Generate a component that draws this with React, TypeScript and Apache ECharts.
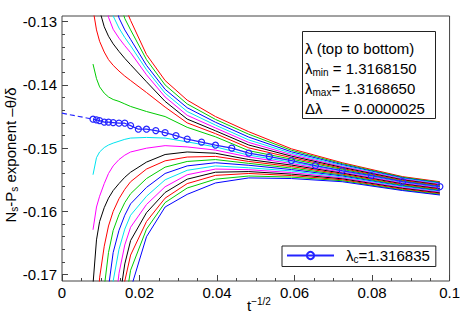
import React, { useEffect, useRef } from 'react';
import * as echarts from 'echarts';

const FONT = '"Liberation Sans", Arial, Helvetica, sans-serif';

// shared t^{-1/2} sample points of the coloured curves
const xGrid = [0.008, 0.0089, 0.0097, 0.0109, 0.012, 0.0132, 0.0147, 0.0162, 0.0177, 0.0218, 0.0266, 0.0323, 0.0396, 0.0482, 0.0592, 0.0723, 0.0879, 0.0975];

// exponent values in units of 1e-3 (null = no data point), top to bottom, the λc curve excluded
const curveIndex = [0, 1, 2, 3, 4, 5, 6, 7, 9, 10, 11, 12, 13, 14, 15, 16, 17, 18, 19, 20];
const curveValues: (number | null)[][] = [
  [null, null, null, null, null, null, -124.0, -127.6, -129.8, -135.2, -139.3, -142.4, -145.0, -147.4, -150.1, -152.3, -154.5, -155.3],
  [null, null, null, null, null, -122.0, -126.5, -129.5, -131.3, -136.0, -140.0, -143.0, -145.45, -147.8, -150.33, -152.45, -154.6, -155.4],
  [null, null, null, null, -121.0, -125.5, -129.4, -131.3, -132.8, -136.9, -140.7, -143.6, -145.9, -148.25, -150.57, -152.6, -154.7, -155.5],
  [null, null, null, -121.0, -125.8, -129.1, -131.0, -132.5, -133.8, -137.6, -141.3, -144.2, -146.35, -148.7, -150.8, -152.75, -154.8, -155.6],
  [null, null, -121.0, -125.5, -129.3, -131.2, -132.6, -133.8, -134.9, -138.4, -141.9, -144.8, -146.8, -149.1, -151.03, -152.9, -154.9, -155.7],
  [null, -123.5, -128.2, -130.8, -132.3, -133.5, -134.7, -135.8, -136.8, -139.5, -142.6, -145.4, -147.25, -149.5, -151.26, -153.05, -155.0, -155.8],
  [-128.0, -131.3, -133.1, -134.8, -136.0, -136.9, -137.8, -138.6, -139.3, -141.2, -143.5, -146.0, -147.7, -149.95, -151.5, -153.2, -155.1, -155.9],
  [-136.7, -139.0, -140.3, -141.3, -141.9, -142.3, -142.6, -143.0, -143.4, -144.2, -145.0, -146.7, -148.2, -150.4, -151.73, -153.35, -155.2, -156.0],
  [-154.2, -151.5, -150.6, -149.9, -149.5, -149.2, -148.9, -148.6, -148.4, -148.3, -148.4, -149.0, -149.8, -151.1, -152.2, -153.65, -155.42, -156.21],
  [-162.9, -159.3, -157.6, -155.6, -154.0, -152.8, -151.8, -151.1, -150.6, -150.0, -149.6, -149.8, -150.3, -151.4, -152.43, -153.8, -155.53, -156.32],
  [-171.5, -164.5, -161.6, -159.4, -157.9, -156.7, -155.6, -154.6, -153.8, -152.2, -151.0, -150.6, -150.8, -151.8, -152.67, -153.95, -155.65, -156.42],
  [null, -178.0, -170.5, -165.5, -162.3, -160.0, -158.0, -156.5, -155.3, -153.3, -152.0, -151.4, -151.3, -152.1, -152.9, -154.1, -155.77, -156.53],
  [null, null, -180.0, -172.0, -166.5, -163.0, -160.5, -158.6, -157.2, -154.8, -153.0, -152.1, -151.8, -152.4, -153.14, -154.25, -155.88, -156.64],
  [null, null, null, -182.0, -172.0, -166.5, -163.0, -160.6, -158.8, -156.2, -154.0, -152.8, -152.3, -152.7, -153.38, -154.4, -156.0, -156.75],
  [null, null, null, null, -180.0, -171.0, -166.0, -162.8, -160.6, -157.6, -155.0, -153.5, -152.8, -153.1, -153.6, -154.55, -156.1, -156.86],
  [null, null, null, null, null, -178.0, -169.8, -165.3, -162.5, -158.9, -156.1, -154.2, -153.3, -153.4, -153.85, -154.7, -156.24, -156.96],
  [null, null, null, null, null, null, -174.5, -168.3, -164.6, -160.2, -157.0, -154.9, -153.8, -153.7, -154.1, -154.85, -156.35, -157.07],
  [null, null, null, null, null, null, -180.0, -171.0, -166.9, -161.6, -157.9, -155.6, -154.3, -154.0, -154.33, -155.0, -156.47, -157.18],
  [null, null, null, null, null, null, null, -175.0, -169.3, -162.8, -158.6, -156.3, -154.9, -154.4, -154.57, -155.15, -156.6, -157.3],
  [null, null, null, null, null, null, null, -180.0, -172.3, -164.0, -159.3, -157.3, -155.5, -154.7, -154.8, -155.3, -156.7, -157.4],
];
const palette = ['#ff0000', '#00cc00', '#0000ff', '#00e4f0', '#ff00ff', '#000000'];

// λc = 1.316835 curve (blue with circles)
const critX = [0.008, 0.0089, 0.0097, 0.0109, 0.012, 0.0132, 0.0147, 0.0162, 0.0177, 0.0197, 0.0218, 0.0242, 0.0266, 0.0294, 0.0323, 0.036, 0.0396, 0.0438, 0.0482, 0.0535, 0.0592, 0.0654, 0.0723, 0.0798, 0.0879, 0.0975];
const critY = [-145.42, -145.53, -145.64, -145.89, -145.89, -145.96, -146.05, -146.05, -146.43, -147.0, -147.0, -147.22, -147.54, -148.01, -148.58, -149.05, -149.53, -150.0, -150.79, -151.33, -151.96, -152.75, -153.54, -154.33, -155.28, -156.07];
// extrapolation to t^{-1/2} = 0
const extrapX = [0, 0.008];
const extrapY = [-144.47, -145.42];

const yMajorTicks = [-0.17, -0.16, -0.15, -0.14, -0.13];
const yMinorTicks = [-0.17, -0.168, -0.166, -0.164, -0.162, -0.16, -0.158, -0.156, -0.154, -0.152, -0.15, -0.148, -0.146, -0.144, -0.142, -0.14, -0.138, -0.136, -0.134, -0.132, -0.13];

const infoLines = [
  '{m|λ (top to bottom)}',
  '{m|λ}{s|min}{m| = 1.3168150}',
  '{m|λ}{s|max}{m|= 1.3168650}',
];
const infoDelta = ['Δλ', '= 0.0000025'];

export default function App() {
  const ref = useRef<HTMLDivElement>(null);
  useEffect(() => {
    if (!ref.current) return;
    const chart = echarts.init(ref.current, undefined, { renderer: 'svg' });
    const frame = '#444';
    const richText = {
      m: { fontSize: 15, fontFamily: FONT, color: '#000', lineHeight: 18 },
      s: { fontSize: 10, fontFamily: FONT, color: '#000', lineHeight: 10, verticalAlign: 'bottom' as const },
    };
    const curveSeries = curveValues.map((row, k) => ({
      type: 'line' as const,
      name: 'c' + curveIndex[k],
      data: xGrid
        .map((x, j) => (row[j] == null ? null : [x, (row[j] as number) / 1000]))
        .filter((d) => d !== null),
      showSymbol: false,
      symbol: 'none',
      lineStyle: { color: palette[curveIndex[k] % 6], width: 1 },
      itemStyle: { color: palette[curveIndex[k] % 6] },
      silent: true,
      z: 2,
    }));
    chart.setOption({
      animation: false,
      grid: { left: 62, top: 16, width: 390, height: 265, show: true, borderColor: frame, borderWidth: 1, backgroundColor: '#fff' },
      xAxis: {
        type: 'value', min: 0, max: 0.1, interval: 0.02,
        axisLine: { show: false },
        splitLine: { show: false },
        axisTick: { inside: true, length: 6, lineStyle: { color: frame } },
        minorTick: { show: true, splitNumber: 4, length: 3, lineStyle: { color: frame } },
        axisLabel: {
          margin: 4, fontSize: 15, fontFamily: FONT, color: '#000',
          formatter: (v: number) => (v === 0 ? '0' : String(parseFloat(v.toFixed(3)))),
        },
      },
      yAxis: [
        {
          type: 'value', min: -0.171, max: -0.1291, position: 'left',
          axisLine: { show: false },
          splitLine: { show: false },
          axisTick: { customValues: yMajorTicks, inside: true, length: 6, lineStyle: { color: frame } },
          axisLabel: {
            customValues: yMajorTicks, margin: 5, fontSize: 15, fontFamily: FONT, color: '#000',
            formatter: (v: number) => v.toFixed(2),
          },
        },
        {
          type: 'value', min: -0.171, max: -0.1291, position: 'left', offset: 0,
          axisLine: { show: false },
          splitLine: { show: false },
          axisTick: { customValues: yMinorTicks, inside: true, length: 3, lineStyle: { color: frame } },
          axisLabel: { show: false },
        },
      ],
      legend: {
        data: ['lc'],
        left: 282, top: 246,
        itemWidth: 47, itemHeight: 9,
        padding: [2, 6, 2, 4],
        borderColor: '#222', borderWidth: 1, backgroundColor: '#fff',
        formatter: () => '{g|}{m|λ}{s|c}{m|=1.316835}',
        textStyle: { rich: { ...richText, g: { width: 7 } } },
      },
      series: [
        ...curveSeries,
        {
          type: 'line', name: 'extrap',
          data: extrapX.map((x, i) => [x, extrapY[i] / 1000]),
          showSymbol: false, symbol: 'none',
          lineStyle: { color: '#2424ff', width: 1.2, type: [5, 3] },
          silent: true, z: 5,
        },
        {
          type: 'line', name: 'lc',
          data: critX.map((x, i) => [x, critY[i] / 1000]),
          symbol: 'circle', symbolSize: 6, showSymbol: true,
          lineStyle: { color: '#2424ff', width: 1.2 },
          itemStyle: { color: 'rgba(255,255,255,0)', borderColor: '#2424ff', borderWidth: 1.2 },
          silent: true, z: 6,
        },
      ],
      graphic: [
        {
          type: 'text', x: 10, y: 155, rotation: Math.PI / 2,
          style: {
            text: '{m|N}{s|s}{m|-P}{s|s}{m| exponent –θ/δ}',
            rich: richText, align: 'center', verticalAlign: 'middle',
          },
        },
        {
          type: 'text', x: 247, y: 296,
          style: {
            text: '{m|t}{u|−1/2}',
            rich: { m: { fontSize: 15, fontFamily: FONT, color: '#000', lineHeight: 18 }, u: { fontSize: 10, fontFamily: FONT, color: '#000', lineHeight: 10, verticalAlign: 'top' } },
            align: 'left', verticalAlign: 'top',
          },
        },
        {
          type: 'rect', shape: { x: 302.5, y: 31.5, width: 133, height: 87 },
          style: { fill: '#fff', stroke: '#222', lineWidth: 1 }, z: 10,
        },
        ...infoLines.map((t, i) => ({
          type: 'text', x: 305, y: 48 + i * 20, z: 11,
          style: { text: t, rich: richText, align: 'left', verticalAlign: 'middle' },
        })),
        {
          type: 'text', x: 305, y: 108, z: 11,
          style: { text: infoDelta[0], fontSize: 15, fontFamily: FONT, fill: '#000', align: 'left', verticalAlign: 'middle' },
        },
        {
          type: 'text', x: 341, y: 108, z: 11,
          style: { text: infoDelta[1], fontSize: 15, fontFamily: FONT, fill: '#000', align: 'left', verticalAlign: 'middle' },
        },
      ],
    });
    return () => chart.dispose();
  }, []);
  return <div ref={ref} style={{ position: 'absolute', left: 0, top: 0, width: 463, height: 328 }} />;
}
